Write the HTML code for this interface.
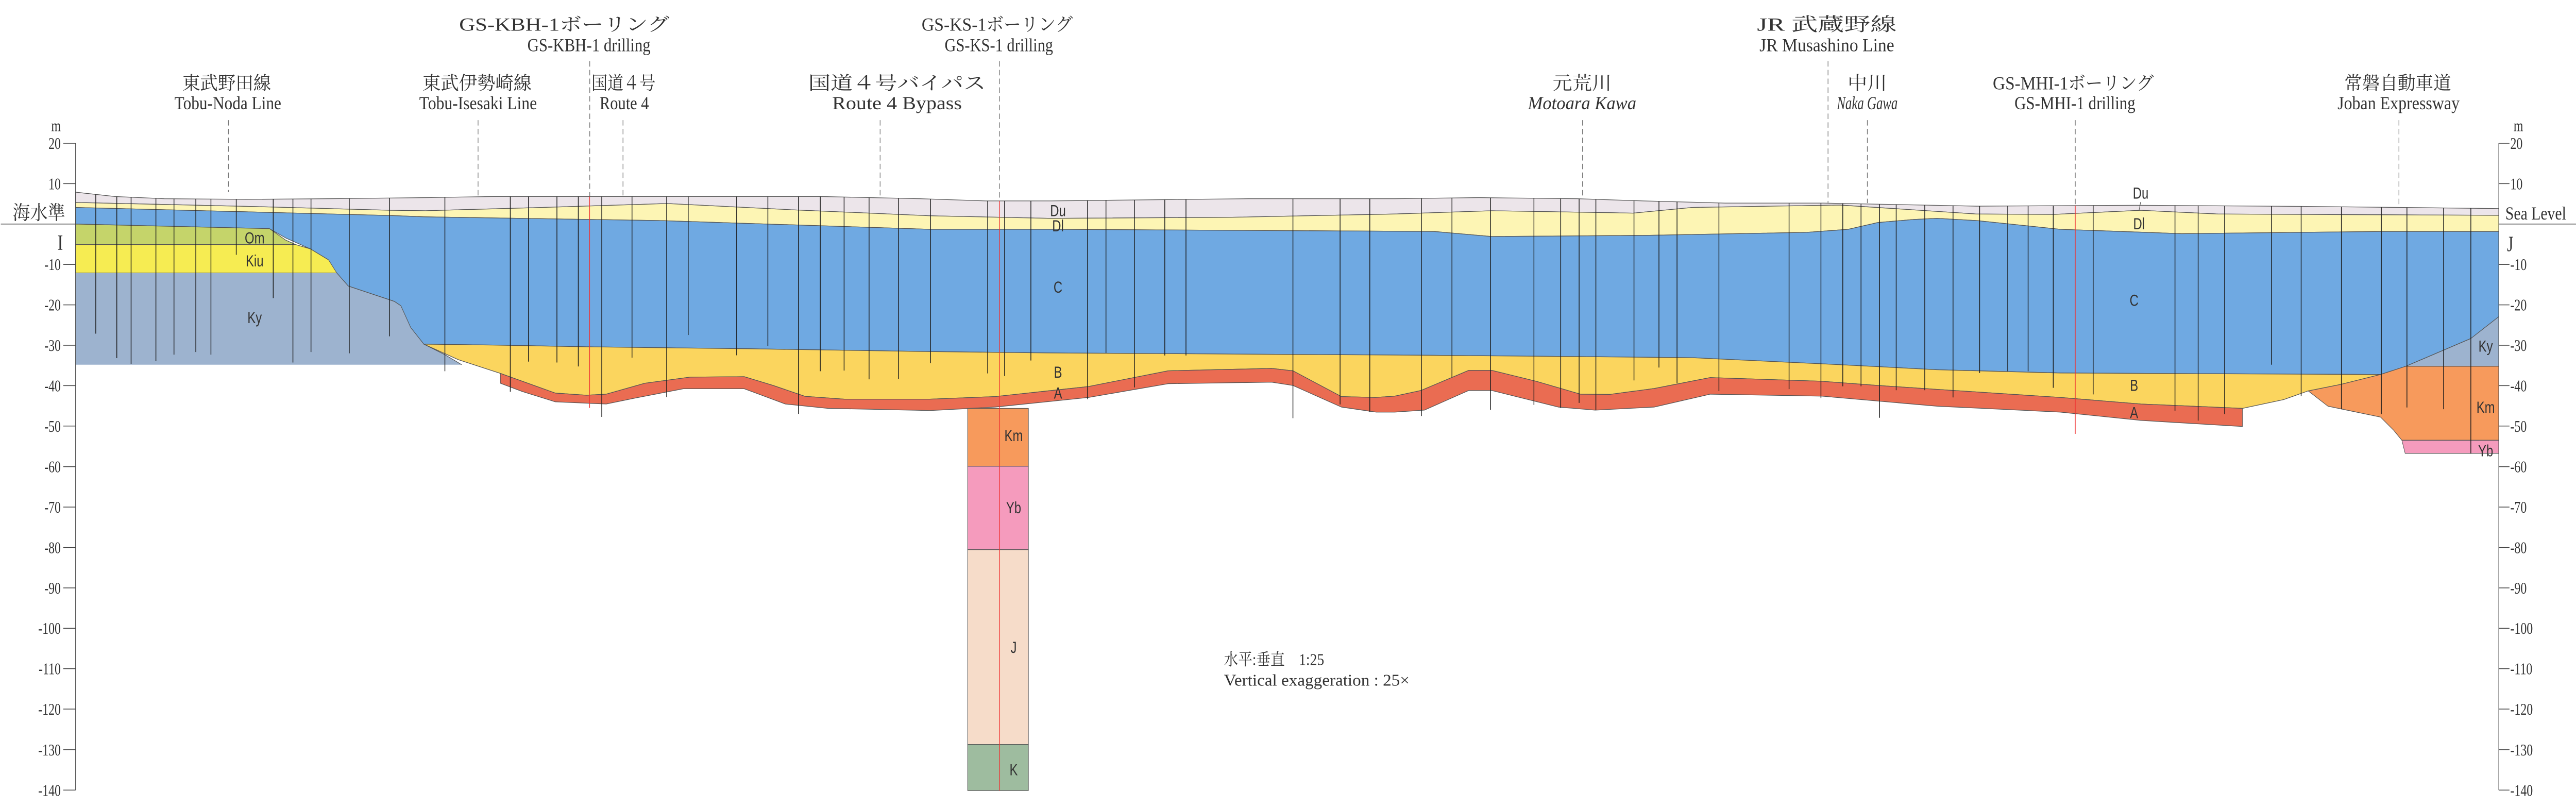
<!DOCTYPE html>
<html><head><meta charset="utf-8"><style>
html,body{margin:0;padding:0;background:#fff;width:100%;height:100%;overflow:hidden;}
svg{display:block;width:100vw;height:100vh;}
.t{font-family:"Liberation Serif","Noto Serif CJK SC","Noto Sans CJK JP",serif;fill:#333;}
.ax{font-family:"Liberation Serif",serif;fill:#333;font-size:7.5px;}
.ly{font-family:"Liberation Sans",sans-serif;fill:#333;font-size:7.5px;text-anchor:middle;}
</style></head><body>
<svg viewBox="0 0 1568 370" preserveAspectRatio="none" xmlns="http://www.w3.org/2000/svg">
<defs>
<clipPath id="gc"><polygon points="46,88 70,90 100,91 150,91.3 200,91 260,90.5 300,90 400,90 500,90 560,91 600,92 640,92 700,91.5 760,91 849,91 900,90.5 960,91 1000,92 1050,93 1110,93 1203,94.4 1300,94 1400,94.5 1521,95.5 1521,400 46,400"/></clipPath>
</defs>
<g stroke="#555" stroke-width="0.3" stroke-linejoin="round">
<polygon fill="#ece5ea" points="46,88 70,90 100,91 150,91.3 200,91 260,90.5 300,90 400,90 500,90 560,91 600,92 640,92 700,91.5 760,91 849,91 900,90.5 960,91 1000,92 1050,93 1110,93 1203,94.4 1300,94 1400,94.5 1521,95.5 1521,98.6 1350,98 1303,96.3 1250,98.2 1203,98 1120,93.9 1030,95 994,97.6 980,97.4 908,96.5 849,98 750,99.5 640,100 566,98.8 480,96 406,93.2 330,95 259,96.5 238,96.3 150,94.5 46,92.7"/>
<polygon fill="#fdf5b4" points="46,92.7 150,94.5 238,96.3 259,96.5 330,95 406,93.2 480,96 566,98.8 640,100 750,99.5 849,98 908,96.5 980,97.4 994,97.6 1030,95 1120,93.9 1203,98 1250,98.2 1303,96.3 1350,98 1521,98.6 1521,106 1449,106 1328,107 1254,105 1203,101 1179,100 1165,100.5 1143,101.9 1125,105 1100,106.4 1000,107.8 908,108.3 873,106 640,105 566,105 401,101 259,99.3 238,98.7 150,97 46,95"/>
<polygon fill="#6fa9e2" points="46,95 150,97 238,98.7 259,99.3 401,101 566,105 640,105 873,106 908,108.3 1000,107.8 1100,106.4 1125,105 1143,101.9 1165,100.5 1179,100 1203,101 1254,105 1328,107 1449,106 1521,106 1521,145 1504,155 1464.5,167.7 1449,171.5 1254,170.8 1179,169.3 1120,167 1030,163.8 962,163.3 873,162.7 637,161.6 566,161 455,159.7 357,158.8 300,158 258,157.6 250,150 244,140 240,138 228,135 212,131 205,125 189,114 174,109 164,104.7 46,102.6"/>
<polygon fill="#c5d46a" points="46,102.6 164,104.7 174,110 180,112 46,112"/>
<polygon fill="#f6ec52" points="46,112 180,112 189,114 200,119 205,125 46,125"/>
<polygon fill="#9db3cf" points="46,125 205,125 212,131 228,135 240,138 244,140 250,150 258,157.6 271,162.5 281,167 46,167" stroke="none"/>
<polyline fill="none" points="205,125 212,131 228,135 240,138 244,140 250,150 258,157.6 271,162.5 281,167"/>
<polygon fill="#fbd55e" points="258,157.6 300,158 357,158.8 455,159.7 566,161 637,161.6 873,162.7 962,163.3 1030,163.8 1120,167 1179,169.3 1254,170.8 1449,171.5 1425,176 1405,179 1390,183 1365,187 1303,185 1254,182 1179,178.3 1143,176.5 1109,174.6 1041,172.9 1007,177.9 980,180.6 962,180.5 935,174.6 908,169.6 894,169.6 865,178.8 849,181.4 837.5,182 816.5,181.6 787,169.8 774,168.7 711,169.8 662.6,177 605.8,181.6 566,182.8 514,182.8 490,181.5 470.6,176.5 453,172.5 420,172.7 392.5,175.5 369,180.5 357,181 338,180 304.6,171 279,164.7"/>
<polygon fill="#ea6c52" points="304.6,171 338,180 357,181 369,180.5 392.5,175.5 420,172.7 453,172.5 470.6,176.5 490,181.5 514,182.8 566,182.8 605.8,181.6 662.6,177 711,169.8 774,168.7 787,169.8 816.5,181.6 837.5,182 849,181.4 865,178.8 894,169.6 908,169.6 935,174.6 962,180.5 980,180.6 1007,177.9 1041,172.9 1109,174.6 1143,176.5 1179,178.3 1254,182 1303,185 1365,187 1365,195.3 1303,192.5 1254,188.7 1179,186 1109,181.4 1041,180.5 1007,186.4 971,187.8 948.5,186.4 908,178.8 894,178.8 867,187.8 849,188.7 837.5,188.7 816.5,186.4 787,176.5 774,175 711,175.7 662.6,182 605.8,186.4 566,188 504,187 478,185 453,178 416,178 386.6,182.3 369,185 338,184 318,179.3 304.6,175.5"/>
<polygon fill="#9db3cf" points="1464.5,167.7 1504,155 1521,145 1521,167.7"/>
<polygon fill="#f79a5c" points="1405,179 1425,176 1449,171.5 1464.5,167.7 1521,167.7 1521,201.6 1462,201.6 1457,197 1449,191 1417,186"/>
<polygon fill="#f59bbd" points="1462,201.6 1521,201.6 1521,207.6 1464,207.6"/>
<rect x="589" y="187" width="37" height="26.5" fill="#f79a5c"/>
<rect x="589" y="213.5" width="37" height="38.2" fill="#f59bbd"/>
<rect x="589" y="251.7" width="37" height="89.2" fill="#f6dcc9"/>
<rect x="589" y="340.9" width="37" height="21.1" fill="#9ebc9f"/>
</g>
<g clip-path="url(#gc)" stroke="#1a1a1a" stroke-width="0.45" fill="none">
<path d="M58.3,85V152.8M71.1,85V164M79.8,85V166.6M94.9,85V165.4M105.9,85V162.4M119.2,85V161.2M128.4,85V162.4M143.8,85V116.7M166.3,85V136.5M178.3,85V166M189.3,85V161.2M212.6,85V161.8M237.1,85V154M270.8,85V170M310.6,85V179.4M321.7,85V165.6M339,85V166M352,85V167.8M366.3,85V190.9M384.7,85V163.8M405.8,85V181.8M418.9,85V153.4M448.4,85V162.7M467.4,85V158.4M486,85V189.5M499.3,85V170M513.8,85V169.7M529,85V173.7M547,85V173.5M566.4,85V166.3M601.2,85V171M611.5,85V172.2M627.5,85V165.1M662,85V182.8M673.2,85V161.6M690.5,85V177.4M709,85V162.8M721.9,85V162.8M787,85V191.5M815.7,85V185.2M833.8,85V188.7M865.2,85V190.5M883.8,85V172.8M907.3,85V187.7M933.7,85V185.4M950,85V186.8M961.2,85V184.5M971.4,85V187.7M994.6,85V174.2M1009.8,85V168.3M1020.8,85V175.5M1046.3,85V179.1M1089,85V178.2M1108.4,85V182.3M1121.7,85V176.9M1132.8,85V176.9M1144.1,85V191.3M1154.2,85V178.7M1171.6,85V178.7M1188.8,85V182M1205,85V170.8M1222.1,85V170M1234.5,85V170M1249.8,85V177.6M1274.1,85V180.6M1323.9,85V188.1M1338,85V192.6M1354.1,85V189.6M1382.6,85V167M1400.7,85V181.4M1425.2,85V187.4M1449.5,85V189.6M1465.1,85V186.6M1487.4,85V187.4M1504,85V207.7"/>
<path stroke="#f03030" stroke-width="0.4" d="M358.9,85V186.8M608.5,85V362M1263.2,85V198.7"/>
</g>
<g stroke="#444" stroke-width="0.3" stroke-dasharray="2.5,1.5" fill="none">
<path d="M139,55V88M291,55V90M379.2,55V90M535.7,55V90M963.3,55V91M1136.6,55V93M1460.2,55V95M1263.2,55V94M1112.7,28V93M359,28V90M608.5,28V92"/>
</g>
<g stroke="#444" stroke-width="0.35" fill="none">
<path d="M46,65.6V361.8M1521,65.6V361.8M0.5,102.6H46M1521,102.6H1568"/>
<path d="M38.5,65.6H46M38.5,84.1H46M38.5,121.1H46M38.5,139.6H46M38.5,158.1H46M38.5,176.6H46M38.5,195.1H46M38.5,213.7H46M38.5,232.2H46M38.5,250.7H46M38.5,269.2H46M38.5,287.7H46M38.5,306.2H46M38.5,324.7H46M38.5,343.3H46M38.5,361.8H46"/>
<path d="M1521,65.6H1527.5M1521,84.1H1527.5M1521,121.1H1527.5M1521,139.6H1527.5M1521,158.1H1527.5M1521,176.6H1527.5M1521,195.1H1527.5M1521,213.7H1527.5M1521,232.2H1527.5M1521,250.7H1527.5M1521,269.2H1527.5M1521,287.7H1527.5M1521,306.2H1527.5M1521,324.7H1527.5M1521,343.3H1527.5M1521,361.8H1527.5"/>
</g>
<g class="ax" text-anchor="end">
<text x="37" y="60">m</text>
<text x="37" y="68.2">20</text><text x="37" y="86.7">10</text>
<text x="37" y="123.7">-10</text><text x="37" y="142.2">-20</text><text x="37" y="160.7">-30</text><text x="37" y="179.2">-40</text><text x="37" y="197.7">-50</text><text x="37" y="216.3">-60</text><text x="37" y="234.8">-70</text><text x="37" y="253.3">-80</text><text x="37" y="271.8">-90</text><text x="37" y="290.3">-100</text><text x="37" y="308.8">-110</text><text x="37" y="327.3">-120</text><text x="37" y="345.9">-130</text><text x="37" y="364.4">-140</text>
</g>
<g class="ax" text-anchor="start">
<text x="1530" y="60">m</text>
<text x="1528" y="68.2">20</text><text x="1528" y="86.7">10</text>
<text x="1528" y="123.7">-10</text><text x="1528" y="142.2">-20</text><text x="1528" y="160.7">-30</text><text x="1528" y="179.2">-40</text><text x="1528" y="197.7">-50</text><text x="1528" y="216.3">-60</text><text x="1528" y="234.8">-70</text><text x="1528" y="253.3">-80</text><text x="1528" y="271.8">-90</text><text x="1528" y="290.3">-100</text><text x="1528" y="308.8">-110</text><text x="1528" y="327.3">-120</text><text x="1528" y="345.9">-130</text><text x="1528" y="364.4">-140</text>
</g>
<text class="t" x="7.7" y="100.5" font-size="9" textLength="32" lengthAdjust="spacingAndGlyphs">海水準</text>
<text class="t" x="35" y="114.5" font-size="10">I</text>
<text class="t" x="1525" y="100.5" font-size="8.5" textLength="37" lengthAdjust="spacingAndGlyphs">Sea Level</text>
<text class="t" x="1526" y="115" font-size="10">J</text>
<g class="t" font-size="8.5" text-anchor="middle">
<text x="343.5" y="14" textLength="128" lengthAdjust="spacingAndGlyphs">GS-KBH-1ボーリング</text>
<text x="358.5" y="23.5" textLength="75" lengthAdjust="spacingAndGlyphs">GS-KBH-1 drilling</text>
<text x="607" y="14" textLength="92" lengthAdjust="spacingAndGlyphs">GS-KS-1ボーリング</text>
<text x="608" y="23.5" textLength="66" lengthAdjust="spacingAndGlyphs">GS-KS-1 drilling</text>
<text x="1112" y="14" textLength="85" lengthAdjust="spacingAndGlyphs">JR  武蔵野線</text>
<text x="1112" y="23.5" textLength="82" lengthAdjust="spacingAndGlyphs">JR Musashino Line</text>
<text x="138" y="41" textLength="54" lengthAdjust="spacingAndGlyphs">東武野田線</text>
<text x="138.7" y="50" textLength="65" lengthAdjust="spacingAndGlyphs">Tobu-Noda Line</text>
<text x="290.4" y="41" textLength="66.5" lengthAdjust="spacingAndGlyphs">東武伊勢崎線</text>
<text x="291" y="50" textLength="71.6" lengthAdjust="spacingAndGlyphs">Tobu-Isesaki Line</text>
<text x="379.5" y="41" textLength="39" lengthAdjust="spacingAndGlyphs">国道４号</text>
<text x="380" y="50" textLength="30" lengthAdjust="spacingAndGlyphs">Route 4</text>
<text x="546" y="41" textLength="108" lengthAdjust="spacingAndGlyphs">国道４号バイパス</text>
<text x="546" y="50" textLength="79" lengthAdjust="spacingAndGlyphs">Route 4 Bypass</text>
<text x="963" y="41" textLength="36" lengthAdjust="spacingAndGlyphs">元荒川</text>
<text x="963" y="50" font-style="italic" textLength="66" lengthAdjust="spacingAndGlyphs">Motoara Kawa</text>
<text x="1136.6" y="41" textLength="24" lengthAdjust="spacingAndGlyphs">中川</text>
<text x="1136.6" y="50" font-style="italic" textLength="37" lengthAdjust="spacingAndGlyphs">Naka Gawa</text>
<text x="1262" y="41" textLength="98" lengthAdjust="spacingAndGlyphs">GS-MHI-1ボーリング</text>
<text x="1263" y="50" textLength="73.6" lengthAdjust="spacingAndGlyphs">GS-MHI-1 drilling</text>
<text x="1459.5" y="41" textLength="65" lengthAdjust="spacingAndGlyphs">常磐自動車道</text>
<text x="1460" y="50" textLength="74.3" lengthAdjust="spacingAndGlyphs">Joban Expressway</text>
</g>
<g class="ly">
<text x="155" y="111.5">Om</text><text x="155" y="122">Kiu</text><text x="155" y="148">Ky</text>
<text x="644" y="99">Du</text><text x="644" y="106">Dl</text><text x="644" y="134">C</text><text x="644" y="173">B</text><text x="644" y="182.5">A</text>
<text x="617" y="202">Km</text><text x="617" y="235">Yb</text><text x="617" y="299">J</text><text x="617" y="355">K</text>
<text x="1303" y="91">Du</text><text x="1302" y="105">Dl</text><text x="1299" y="140">C</text><text x="1299" y="179">B</text><text x="1299" y="191.5">A</text>
<text x="1513" y="161">Ky</text><text x="1513" y="189">Km</text><text x="1513" y="209">Yb</text>
</g>
<path d="M1303,92.5L1302,96.5" stroke="#444" stroke-width="0.3"/>
<text class="t" x="745" y="304.5" font-size="7.5" textLength="61" lengthAdjust="spacingAndGlyphs">水平:垂直　1:25</text>
<text class="t" x="745" y="314" font-size="7.5" textLength="113" lengthAdjust="spacingAndGlyphs">Vertical  exaggeration  : 25×</text>
</svg>
</body></html>
